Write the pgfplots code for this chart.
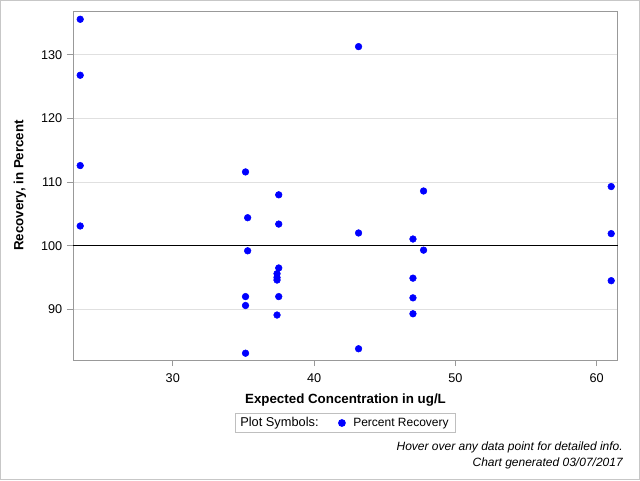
\documentclass[border=0pt]{standalone}
\usepackage{pgfplots}
\pgfplotsset{compat=1.18}
\usepackage{fontspec}
\setmainfont{Liberation Sans}
\begin{document}
\begin{tikzpicture}
\useasboundingbox (0,0) rectangle (480pt,360pt);
\draw[line width=0.75pt, color=black!22] (0.375pt,0.375pt) rectangle (479.625pt,359.625pt);
\begin{axis}[
  at={(54.75pt,90pt)}, anchor=south west, scale only axis,
  width=408.75pt, height=261.75pt,
  xmin=22.94, xmax=61.51, ymin=82.03, ymax=136.9,
  xtick={30,40,50,60}, ytick={90,100,110,120,130},
  axis line style={black!40, line width=0.75pt},
  tick align=outside, major tick length=4.5pt,
  tick style={black!40, line width=0.75pt},
  xtick pos=left, ytick pos=left,
  ymajorgrids, grid style={black!12, line width=0.75pt},
  ticklabel style={font=\fontsize{9.5}{11}\selectfont},
  xticklabel style={yshift=-2.5pt},
  /pgf/number format/assume math mode=true,
  xlabel={Expected Concentration in ug/L},
  ylabel={Recovery, in Percent},
  label style={font=\fontsize{10}{12}\selectfont\bfseries},
  xlabel style={at={(axis description cs:0.5,-0.1160)}, anchor=center},
  ylabel style={at={(axis description cs:-0.0972,0.5)}, anchor=center},
  legend style={at={(0.5,-0.1805)}, anchor=center, draw=black!25,
    line width=0.75pt, legend columns=2, inner ysep=1pt, inner xsep=3.25pt,
    font=\fontsize{9}{11}\selectfont,
    /tikz/every even column/.append style={column sep=13pt}},
]
\addplot[black, line width=0.75pt, forget plot] coordinates {(22.94,100) (61.51,100)};
\addlegendimage{empty legend}
\addlegendentry{\hspace{-1.5pt}\fontsize{9.6}{11}\selectfont Plot Symbols:}
\addplot[only marks, mark=*, mark size=2.5pt, color=blue, mark options={fill=blue, draw=blue}] coordinates {
  (23.45,135.6) (23.45,126.8) (23.45,112.6) (23.45,103.1)
  (35.15,111.6) (35.15,92.0) (35.15,90.6) (35.15,83.1)
  (35.30,104.4) (35.30,99.2)
  (37.50,108.0) (37.50,103.4) (37.50,96.5) (37.50,92.0)
  (37.38,95.6) (37.38,94.6) (37.38,95.0) (37.38,89.1)
  (43.15,131.3) (43.15,102.0) (43.15,83.8)
  (47.00,101.05) (47.00,94.9) (47.00,91.8) (47.00,89.3)
  (47.75,108.6) (47.75,99.3)
  (61.03,109.3) (61.03,101.9) (61.03,94.5)
};
\addlegendentry{\hspace{4pt}Percent Recovery\hspace{2pt}}
\end{axis}
\node[anchor=base east, inner sep=0pt, font=\fontsize{9}{11}\selectfont\itshape] at (467.25pt,22.1pt) {Hover over any data point for detailed info.};
\node[anchor=base east, inner sep=0pt, font=\fontsize{9}{11}\selectfont\itshape] at (467.25pt,10.5pt) {Chart generated 03/07/2017};
\end{tikzpicture}
\end{document}
